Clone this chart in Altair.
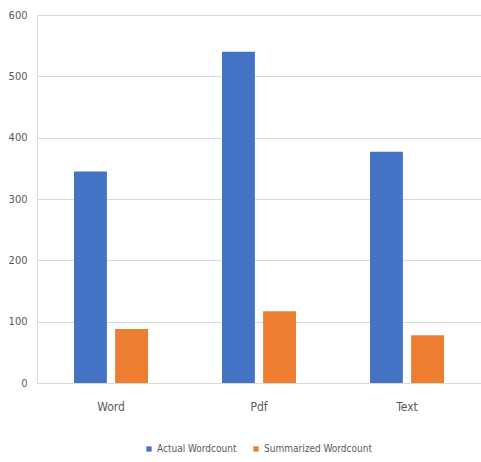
import altair as alt
import pandas as pd

categories = ["Word", "Pdf", "Text"]
series = ["Actual Wordcount", "Summarized Wordcount"]
actual = [345, 540, 377]
summarized = [88, 117, 78]
colors = ["#4472C4", "#ED7D31"]

rows = []
for c, a, s in zip(categories, actual, summarized):
    rows.append({"cat": c, "series": series[0], "value": a})
    rows.append({"cat": c, "series": series[1], "value": s})
df = pd.DataFrame(rows)

FONT = "Liberation Sans Narrow, DejaVu Sans Condensed, sans-serif"

chart = alt.Chart(df).mark_bar().encode(
    x=alt.X("cat:N", sort=categories, title=None,
            scale=alt.Scale(paddingInner=0, paddingOuter=0),
            axis=alt.Axis(labelAngle=0, ticks=False, domain=False, labelPadding=18,
                          labelFontSize=12, labelColor="#595959", labelFont=FONT)),
    xOffset=alt.XOffset("series:N", sort=series,
                        scale=alt.Scale(paddingInner=0.2, paddingOuter=0.9)),
    y=alt.Y("value:Q", title=None,
            scale=alt.Scale(domain=[0, 600], nice=False),
            axis=alt.Axis(values=[0, 100, 200, 300, 400, 500, 600], ticks=False, domain=False,
                          labelPadding=10, labelFontSize=11, labelColor="#595959",
                          labelFont=FONT, gridColor="#d9d9d9", gridWidth=1)),
    color=alt.Color("series:N", sort=series,
                    scale=alt.Scale(domain=series, range=colors),
                    legend=alt.Legend(title=None, orient="none", direction="horizontal",
                                      legendX=107, legendY=429, symbolType="square",
                                      symbolSize=28, labelFontSize=10, labelColor="#595959",
                                      labelFont=FONT, columnPadding=14, labelOffset=3,
                                      symbolStrokeWidth=0)),
).properties(
    width=444, height=368,
    padding={"left": 37, "top": 15, "right": 0, "bottom": 79},
    autosize=alt.AutoSizeParams(type="none"),
).configure_view(stroke=None).configure(background="white")

chart.save("out.html", embed_options={"renderer": "svg", "actions": False})
